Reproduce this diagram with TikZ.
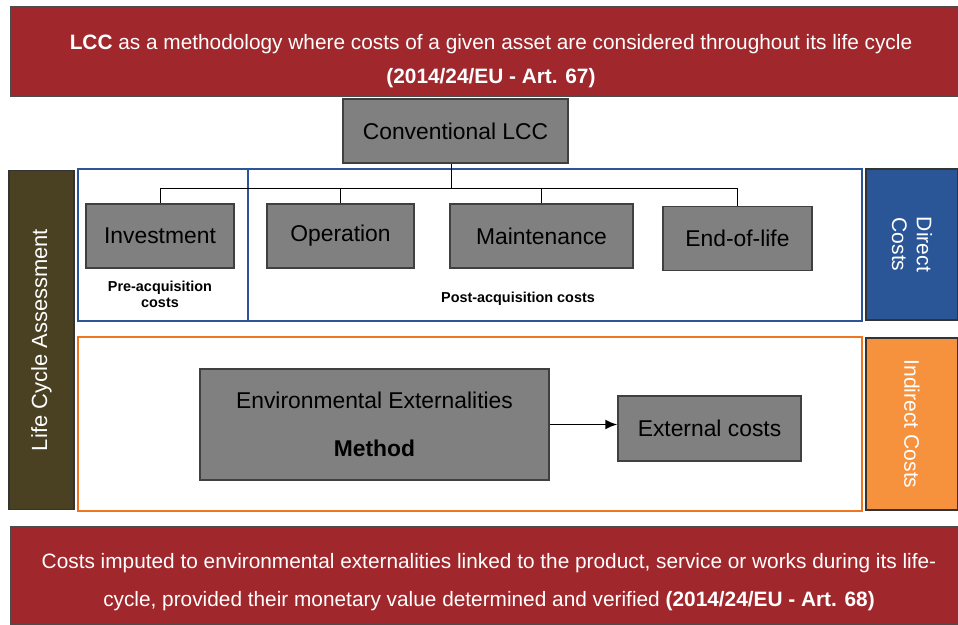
\documentclass[tikz,border=0pt]{standalone}
\usepackage{fontspec}
\setmainfont{Liberation Sans}
\usepackage{tikz}
\usetikzlibrary{positioning,calc,fit,arrows.meta}
\definecolor{bandred}{RGB}{160,40,45}
\definecolor{boxgray}{RGB}{128,128,128}
\definecolor{lcaolive}{RGB}{74,64,34}
\definecolor{dirblue}{RGB}{42,86,152}
\definecolor{indorange}{RGB}{246,146,62}
\definecolor{frameorange}{RGB}{238,118,32}

\begin{document}
\begin{tikzpicture}[x=0.02cm,y=-0.02cm,
	band/.style={fill=bandred,draw=black!70,line width=0.6pt,inner sep=0pt,minimum width=18.96cm},
	bandtext/.style={text=white,align=center,inner sep=0pt},
	box/.style={draw=black!75,line width=0.8pt,fill=boxgray,inner sep=0pt,minimum height=1.28cm,font=\fontsize{13}{15}\selectfont},
	side/.style={draw=black!80,line width=0.6pt,inner sep=0pt,text=white,align=center,font=\fontsize{12}{14}\selectfont},
	frame/.style={line width=1.2pt,inner sep=0pt},
	small/.style={font=\fontsize{8.2}{9.2}\selectfont\bfseries,align=center}]
	\useasboundingbox (0,0) rectangle (958,625);
	%banners
	\node(top)[band,minimum height=1.78cm] at (484,51.5){};
	\node(toptext)[bandtext,font=\fontsize{11.85}{19.3}\selectfont] at (491,61.5)
		{\textbf{LCC} as a methodology where costs of a given asset are considered throughout its life cycle\\ \textbf{(2014/24/EU - Art. 67)}};
	\node(bottom)[band,minimum height=1.96cm] at (484,576){};
	\node(bottomtext)[bandtext,font=\fontsize{11.85}{21.6}\selectfont] at (489,582)
		{Costs imputed to environmental externalities linked to the product, service or works during its life-\\ cycle, provided their monetary value determined and verified \textbf{(2014/24/EU - Art. 68)}};
	%frames
	\node(dframe)[frame,draw=dirblue,minimum width=15.68cm,minimum height=3.04cm] at (470,245){};
	\draw[frame,draw=dirblue] (248,169) -- (248,321);
	\node(iframe)[frame,draw=frameorange,minimum width=15.68cm,minimum height=3.48cm] at (470,424){};
	%side labels
	\node(lca)[side,fill=lcaolive,rotate=90,minimum width=6.8cm,minimum height=1.3cm,font=\fontsize{12.5}{14}\selectfont] at (41.5,340){Life Cycle Assessment};
	\node(direct)[side,fill=dirblue,rotate=-90,minimum width=3.02cm,minimum height=1.84cm] at (912,244.5){Direct\\Costs};
	\node(indirect)[side,fill=indorange,rotate=-90,minimum width=3.44cm,minimum height=1.84cm] at (912,424){Indirect Costs};
	%conventional LCC tree
	\node(lcc)[box,minimum width=4.5cm] at (455.5,131){Conventional LCC};
	\node(inv)[box,minimum width=2.96cm] at (160,236){Investment};
	\node(op)[box,minimum width=2.94cm] at (340.5,236){Operation};
	\node(mnt)[box,minimum width=3.66cm] at (541.5,236){Maintenance};
	\node(eol)[box,minimum width=2.98cm] at (737.5,238.5){End-of-life};
	\coordinate(j) at (451,188);
	\draw (lcc.south -| j) -- (j);
	\draw (inv.north) |- (j);
	\draw (op.north) |- (j);
	\draw (mnt.north) |- (j);
	\draw (eol.north) |- (j);
	\node(pre)[small] at (160,294){Pre-acquisition\\costs};
	\node(post)[small] at (518,299){Post-acquisition costs};
	%externalities
	\node(eem)[box,minimum width=6.98cm,minimum height=2.22cm,align=center,font=\fontsize{13}{27}\selectfont] at (374.5,424.5){Environmental Externalities\\\textbf{Method}};
	\node(ext)[box,minimum width=3.66cm,minimum height=1.3cm] at (709.5,428.5){External costs};
	\draw[-{Latex[length=2.4mm,width=2mm]},line width=1.1pt] (eem.east) -- (eem.east -| ext.west);
\end{tikzpicture}
\end{document}
